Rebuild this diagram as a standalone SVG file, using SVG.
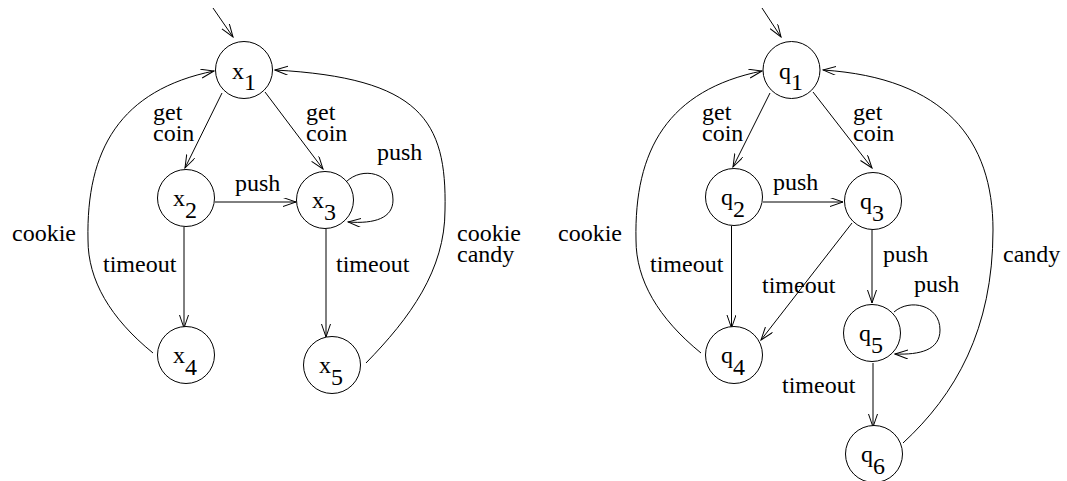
<svg xmlns="http://www.w3.org/2000/svg" width="1067" height="481" viewBox="0 0 1067 481">
  <style>
    .node circle { fill: #fff; stroke: #000; stroke-width: 1; }
    .node text, .lbl { font-family: "Liberation Serif", "Times New Roman", serif; font-size: 24px; fill: #000; }
    .node text { text-anchor: middle; }
    .edge { fill: none; stroke: #000; stroke-width: 1; marker-end: url(#arr); }
  </style>
  <defs>
    <marker id="arr" viewBox="0 0 14 10" markerWidth="14" markerHeight="10" refX="13" refY="4.5" orient="auto" markerUnits="userSpaceOnUse">
      <path d="M0,0 L13,4.5 L0,9" fill="none" stroke="#000" stroke-width="1"/>
    </marker>
  </defs>
  <rect width="1067" height="481" fill="#fff"/>

  <!-- transitions -->
  <g id="connectors">
    <!-- machine x -->
    <path class="edge" d="M213,8 L233,37"/>
    <path class="edge" d="M222,93 L185,168"/>
    <path class="edge" d="M265,92 L323,169"/>
    <path class="edge" d="M215,202 L296,202"/>
    <path class="edge" d="M346,182 C362,166 393,172 393,200 C393,218 375,224 348,222"/>
    <path class="edge" d="M184,227 L184,328"/>
    <path class="edge" d="M326,229 L326,337"/>
    <path class="edge" d="M153,353 C110,318 88,280 88,240 C86,150 120,90 214,71"/>
    <path class="edge" d="M366,363 C410,318 445,270 445,210 C447,120 420,78 275,70"/>

    <!-- machine q -->
    <path class="edge" d="M762,8 L781,37"/>
    <path class="edge" d="M770,93 L733,167"/>
    <path class="edge" d="M813,92 L872,168"/>
    <path class="edge" d="M763,202 L843,202"/>
    <path class="edge" d="M731.5,226 L731.5,328"/>
    <path class="edge" d="M852,223 L761,340"/>
    <path class="edge" d="M872,230 L872,303"/>
    <path class="edge" d="M894,312 C910,298 940,305 940,330 C940,350 920,355 895,354"/>
    <path class="edge" d="M873,363 L873,427"/>
    <path class="edge" d="M701,353 C658,318 636,280 636,240 C634,150 668,90 762,71"/>
    <path class="edge" d="M903,443 C955,395 993,330 993,230 C993,140 945,78 823,70"/>
  </g>

  <!-- transition labels -->
  <g id="labels">
    <text class="lbl" x="153" y="120">get</text>
    <text class="lbl" x="153" y="141">coin</text>
    <text class="lbl" x="306" y="120">get</text>
    <text class="lbl" x="306" y="141">coin</text>
    <text class="lbl" x="235" y="191">push</text>
    <text class="lbl" x="377" y="160">push</text>
    <text class="lbl" x="12" y="241">cookie</text>
    <text class="lbl" x="103" y="272">timeout</text>
    <text class="lbl" x="336" y="272">timeout</text>
    <text class="lbl" x="457" y="241">cookie</text>
    <text class="lbl" x="457" y="262">candy</text>

    <text class="lbl" x="702" y="120">get</text>
    <text class="lbl" x="702" y="141">coin</text>
    <text class="lbl" x="853" y="120">get</text>
    <text class="lbl" x="853" y="141">coin</text>
    <text class="lbl" x="773" y="190">push</text>
    <text class="lbl" x="558" y="241">cookie</text>
    <text class="lbl" x="650" y="272">timeout</text>
    <text class="lbl" x="762" y="293">timeout</text>
    <text class="lbl" x="883" y="262">push</text>
    <text class="lbl" x="914" y="292">push</text>
    <text class="lbl" x="782" y="393">timeout</text>
    <text class="lbl" x="1003" y="262">candy</text>
  </g>

  <!-- states of machine x -->
  <g id="x1" class="node"><circle cx="244" cy="70" r="28.5"/><text x="244" y="79">x<tspan dy="11">1</tspan></text></g>
  <g id="x2" class="node"><circle cx="186" cy="198" r="28.5"/><text x="185" y="206">x<tspan dy="12">2</tspan></text></g>
  <g id="x3" class="node"><circle cx="325" cy="200" r="28.5"/><text x="324" y="208">x<tspan dy="12">3</tspan></text></g>
  <g id="x4" class="node"><circle cx="186" cy="355" r="28.5"/><text x="185" y="363">x<tspan dy="12">4</tspan></text></g>
  <g id="x5" class="node"><circle cx="332" cy="365" r="28.5"/><text x="331" y="373">x<tspan dy="12">5</tspan></text></g>

  <!-- states of machine q -->
  <g id="q1" class="node"><circle cx="791.5" cy="70" r="28.5"/><text x="791" y="79">q<tspan dy="11">1</tspan></text></g>
  <g id="q2" class="node"><circle cx="734" cy="197" r="28.5"/><text x="733" y="205">q<tspan dy="12">2</tspan></text></g>
  <g id="q3" class="node"><circle cx="873" cy="201" r="28.5"/><text x="872" y="209">q<tspan dy="12">3</tspan></text></g>
  <g id="q4" class="node"><circle cx="734" cy="355" r="28.5"/><text x="733" y="363">q<tspan dy="12">4</tspan></text></g>
  <g id="q5" class="node"><circle cx="872" cy="333" r="28.5"/><text x="871" y="341">q<tspan dy="12">5</tspan></text></g>
  <g id="q6" class="node"><circle cx="874" cy="454" r="28.5"/><text x="873" y="462">q<tspan dy="12">6</tspan></text></g>
</svg>
